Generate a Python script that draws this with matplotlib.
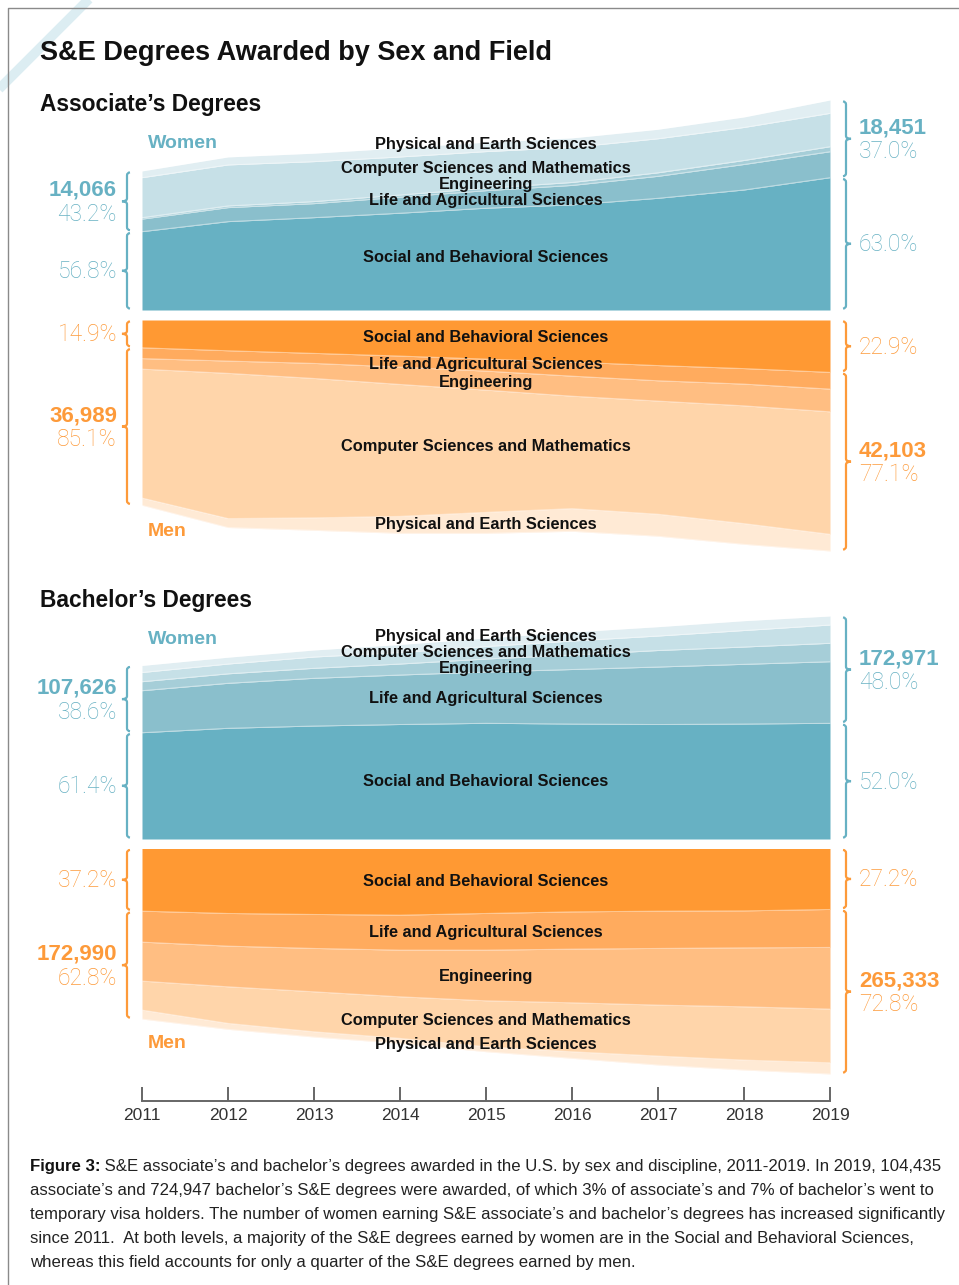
import matplotlib
matplotlib.use('Agg')
import numpy as np
import matplotlib.pyplot as plt
from matplotlib.path import Path
from matplotlib.patches import PathPatch

plt.rcParams['font.family'] = ['Liberation Sans', 'DejaVu Sans']

# ---- data (degrees awarded) ----
years = [2011, 2012, 2013, 2014, 2015, 2016, 2017, 2018, 2019]
fields = ['Social and Behavioral Sciences', 'Life and Agricultural Sciences', 'Engineering',
          'Computer Sciences and Mathematics', 'Physical and Earth Sciences']

# Associate's degrees, women
aw_social = [6880, 7760, 8110, 8500, 8940, 9230, 9810, 10540, 11620]
aw_life = [1100, 1230, 1230, 1410, 1540, 1710, 1930, 2240, 2280]
aw_eng = [130, 150, 180, 190, 220, 260, 310, 350, 440]
aw_cs = [3510, 3600, 3510, 3340, 3210, 3080, 2990, 2900, 2930]
aw_phys = [590, 700, 740, 790, 830, 830, 830, 920, 1170]

# Associate's degrees, men
am_social = [5060, 5600, 6080, 6570, 7120, 7670, 8300, 8850, 9540]
am_life = [1970, 1880, 1830, 2010, 2190, 2560, 2770, 2830, 3050]
am_eng = [1920, 2240, 2740, 3160, 3470, 3650, 3700, 3960, 4140]
am_cs = [23490, 26460, 25400, 24040, 22270, 20490, 20620, 21460, 22320]
am_phys = [1330, 1640, 2280, 3100, 3830, 4140, 4020, 3780, 3050]

# Bachelor's degrees, women
bw_social = [82450, 85860, 87640, 88810, 89740, 89190, 88800, 89190, 89740]
bw_life = [32580, 34900, 37000, 38390, 39790, 42270, 44600, 46300, 47780]
bw_eng = [6980, 7370, 7760, 8530, 10080, 11250, 12800, 13420, 14270]
bw_cs = [7140, 7600, 8760, 8920, 9700, 10860, 11250, 12800, 14190]
bw_phys = [5430, 5270, 5430, 6200, 6590, 6980, 7210, 7600, 6980]

# Bachelor's degrees, men
bm_social = [73710, 76410, 77590, 78410, 76410, 74530, 73710, 73360, 71710]
bm_life = [36440, 38440, 39970, 41150, 43140, 43850, 43850, 43500, 44670]
bm_eng = [45850, 47850, 51020, 54900, 59600, 63130, 66660, 69360, 72540]
bm_cs = [34090, 43030, 47020, 48900, 54080, 57600, 59960, 62660, 63130]
bm_phys = [10580, 7050, 6230, 5880, 5880, 7760, 10580, 11760, 13280]

# printed totals and shares (2011, 2019)
aw_totals = [14066, 18451]
aw_other_pct = [43.2, 37.0]
aw_social_pct = [56.8, 63.0]
am_totals = [36989, 42103]
am_other_pct = [85.1, 77.1]
am_social_pct = [14.9, 22.9]
bw_totals = [107626, 172971]
bw_other_pct = [38.6, 48.0]
bw_social_pct = [61.4, 52.0]
bm_totals = [172990, 265333]
bm_other_pct = [62.8, 72.8]
bm_social_pct = [37.2, 27.2]

caption = [
    " S&E associate\u2019s and bachelor\u2019s degrees awarded in the U.S. by sex and discipline, 2011-2019. In 2019, 104,435",
    "associate\u2019s and 724,947 bachelor\u2019s S&E degrees were awarded, of which 3% of associate\u2019s and 7% of bachelor\u2019s went to",
    "temporary visa holders. The number of women earning S&E associate\u2019s and bachelor\u2019s degrees has increased significantly",
    "since 2011.  At both levels, a majority of the S&E degrees earned by women are in the Social and Behavioral Sciences,",
    "whereas this field accounts for only a quarter of the S&E degrees earned by men.",
]

# ---- styles ----
W, H = 959, 1285
teal = '#67b1c3'
orange = '#fd9a3a'
teal_cols = ['#67b1c3', '#8abfcc', '#a6ced8', '#c6e0e7', '#e1eef2']
orange_cols = ['#ff9933', '#ffab5e', '#ffbe82', '#ffd5aa', '#ffead5']
X0, X1 = 142, 830

fig = plt.figure(figsize=(W / 100, H / 100), dpi=100)


def stream(series, colors, y_base, y_end, y_far, down):
    # stacked area, one axes per sex; y_end is where the 2019 total should land
    totals = np.sum(series, axis=0)
    limit = totals[-1] * abs(y_far - y_base) / abs(y_end - y_base)
    top, bot = (y_base, y_far) if down else (y_far, y_base)
    ax = fig.add_axes([X0 / W, 1 - bot / H, (X1 - X0) / W, (bot - top) / H])
    ax.set_xlim(years[0], years[-1])
    ax.set_ylim((limit, 0) if down else (0, limit))
    base = np.zeros(len(years))
    for vals, c in zip(series, colors):
        upper = base + np.array(vals)
        ax.fill_between(years, base, upper, color=c, lw=0)
        ax.plot(years, upper, color='white', lw=0.7, alpha=0.45)
        base = upper
    ax.axis('off')
    return ax


ax_aw = stream([aw_social, aw_life, aw_eng, aw_cs, aw_phys], teal_cols, 310, 100, 90, False)
ax_am = stream([am_social, am_life, am_eng, am_cs, am_phys], orange_cols, 320, 551, 565, True)
ax_bw = stream([bw_social, bw_life, bw_eng, bw_cs, bw_phys], teal_cols, 839, 616, 605, False)
ax_bm = stream([bm_social, bm_life, bm_eng, bm_cs, bm_phys], orange_cols, 848.5, 1074, 1085, True)

# x axis
axx = fig.add_axes([X0 / W, 1 - 1101 / H, (X1 - X0) / W, 30 / H])
axx.set_xlim(years[0], years[-1])
axx.set_xticks(years)
axx.set_xticklabels([str(y) for y in years], fontsize=12.5, color='#333333')
axx.tick_params(axis='x', direction='in', length=10, width=1.4, color='#666666', pad=5)
axx.set_yticks([])
for s in ['top', 'left', 'right']:
    axx.spines[s].set_visible(False)
axx.spines['bottom'].set_color('#666666')
axx.spines['bottom'].set_linewidth(1.4)
axx.patch.set_alpha(0)

# overlay in pixel coordinates for text and braces
ov = fig.add_axes([0, 0, 1, 1])
ov.set_xlim(0, W)
ov.set_ylim(H, 0)
ov.axis('off')
ov.patch.set_alpha(0)


def to_px(ax, x, v):
    dx, dy = ax.transData.transform((x, v))
    return dx, H - dy


def brace(x, ya, yb, side, color):
    ya, yb = ya + 1.5, yb - 1.5
    hk, tip, r = 3.0, 5.0, 3.0
    ym = (ya + yb) / 2
    s = side
    verts = [(x - s * hk, ya), (x, ya), (x, ya + r),
             (x, ym - r), (x, ym), (x + s * tip, ym),
             (x, ym), (x, ym + r),
             (x, yb - r), (x, yb), (x - s * hk, yb)]
    codes = [Path.MOVETO, Path.CURVE3, Path.CURVE3, Path.LINETO, Path.CURVE3, Path.CURVE3,
             Path.CURVE3, Path.CURVE3, Path.LINETO, Path.CURVE3, Path.CURVE3]
    ov.add_patch(PathPatch(Path(verts, codes), fill=False, edgecolor=color, lw=1.6))
    return ym


def num_label(x, y, txt, side, color, bold):
    ha = 'right' if side < 0 else 'left'
    if bold:
        ov.text(x, y + 1, txt, ha=ha, va='center', fontsize=16, fontweight='bold', color=color)
    else:
        ov.text(x, y + 1, txt, ha=ha, va='center', fontsize=16.5, fontweight='light', color=color,
                family=['Roboto', 'Liberation Sans'])


def side_labels(ax_w, ax_m, w_social, w_tot, m_social, m_tot,
                w_totals, w_other, w_soc, m_totals, m_other, m_soc):
    for k, i in enumerate([0, -1]):
        yr = years[i]
        side = -1 if k == 0 else 1
        bx = 127 if k == 0 else 846
        lx = 117 if k == 0 else 859
        # women
        _, y0 = to_px(ax_w, yr, 0)
        _, ys = to_px(ax_w, yr, w_social[i])
        _, yt = to_px(ax_w, yr, w_tot[i])
        ym = brace(bx, yt, ys, side, teal)
        num_label(lx, ym - 12, f'{w_totals[k]:,}', side, teal, True)
        num_label(lx, ym + 12, f'{w_other[k]:.1f}%', side, teal, False)
        ym = brace(bx, ys, y0, side, teal)
        num_label(lx, ym, f'{w_soc[k]:.1f}%', side, teal, False)
        # men
        _, y0 = to_px(ax_m, yr, 0)
        _, ys = to_px(ax_m, yr, m_social[i])
        _, yt = to_px(ax_m, yr, m_tot[i])
        ym = brace(bx, y0, ys, side, orange)
        num_label(lx, ym, f'{m_soc[k]:.1f}%', side, orange, False)
        ym = brace(bx, ys, yt, side, orange)
        num_label(lx, ym - 12, f'{m_totals[k]:,}', side, orange, True)
        num_label(lx, ym + 12, f'{m_other[k]:.1f}%', side, orange, False)


side_labels(ax_aw, ax_am, aw_social, np.sum([aw_social, aw_life, aw_eng, aw_cs, aw_phys], axis=0),
            am_social, np.sum([am_social, am_life, am_eng, am_cs, am_phys], axis=0),
            aw_totals, aw_other_pct, aw_social_pct, am_totals, am_other_pct, am_social_pct)
side_labels(ax_bw, ax_bm, bw_social, np.sum([bw_social, bw_life, bw_eng, bw_cs, bw_phys], axis=0),
            bm_social, np.sum([bm_social, bm_life, bm_eng, bm_cs, bm_phys], axis=0),
            bw_totals, bw_other_pct, bw_social_pct, bm_totals, bm_other_pct, bm_social_pct)

# field labels (pixel rows for each field: social, life, eng, cs, phys)
label_x = to_px(ax_aw, 2015, 0)[0]
rows = [
    [257, 200, 184, 169, 145],
    [338, 365, 383, 447, 525],
    [781, 698, 669, 653, 637],
    [881, 933, 977, 1020, 1044],
]
for r in rows:
    for name, y in zip(fields, r):
        ov.text(label_x, y, name, ha='center', va='center', fontsize=11.8, fontweight='bold',
                color='#111111')

# headings
ov.plot([-10, 100], [98, -12], color='#dcedf2', lw=7, solid_capstyle='butt', zorder=0)
ov.plot([8, 8, W + 5], [H + 5, 8, 8], color='#8a8a8a', lw=1.0)
ov.text(40, 53, 'S&E Degrees Awarded by Sex and Field', ha='left', va='center',
        fontsize=19.5, fontweight='bold', color='#111111')
ov.text(40, 105, 'Associate\u2019s Degrees', ha='left', va='center', fontsize=16.4,
        fontweight='bold', color='#111111')
ov.text(40, 600, 'Bachelor\u2019s Degrees', ha='left', va='center', fontsize=16.4,
        fontweight='bold', color='#111111')
for y in [143, 639]:
    ov.text(148, y, 'Women', ha='left', va='center', fontsize=14, fontweight='bold', color=teal)
for y in [531, 1044]:
    ov.text(148, y, 'Men', ha='left', va='center', fontsize=14, fontweight='bold', color=orange)

# caption
renderer = fig.canvas.get_renderer()
t = ov.text(30, 1167, 'Figure 3:', ha='left', va='center', fontsize=12.1, fontweight='bold',
            color='#111111')
bb = t.get_window_extent(renderer)
ov.text(30 + bb.width, 1167, caption[0], ha='left', va='center', fontsize=12.1, color='#222222')
for i, line in enumerate(caption[1:]):
    ov.text(30, 1191 + 24 * i, line, ha='left', va='center', fontsize=12.1, color='#222222')

fig.savefig('out.png', dpi=100)
